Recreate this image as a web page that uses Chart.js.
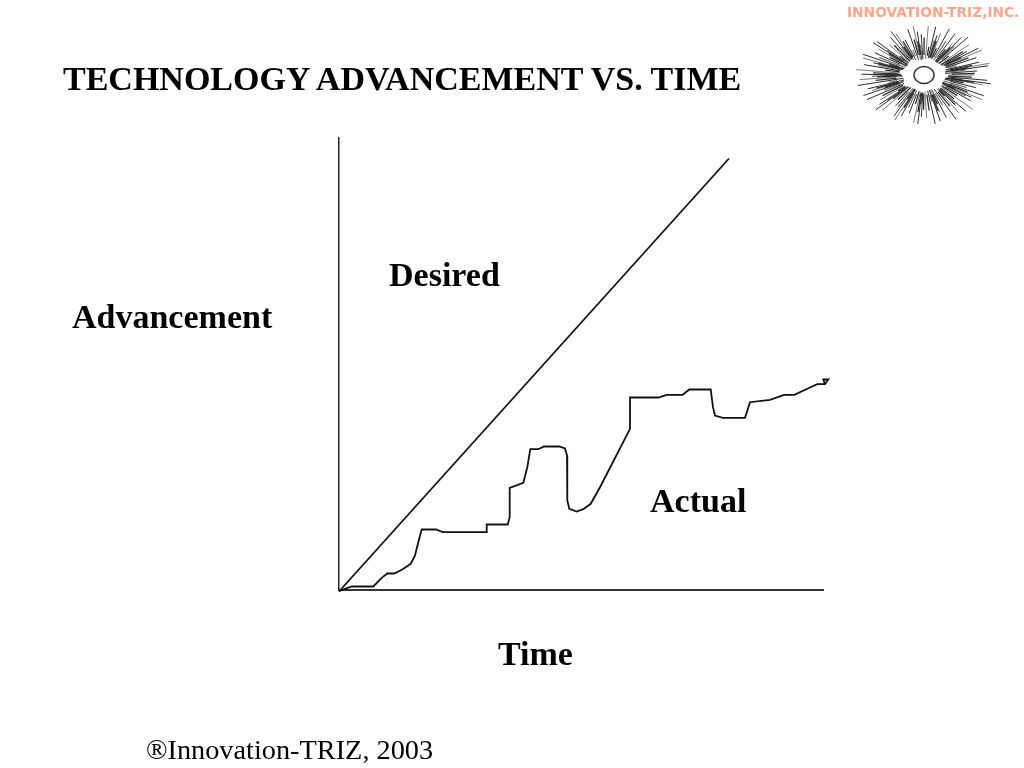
<!DOCTYPE html>
<html>
<head>
<meta charset="utf-8">
<title>Technology advancement vs. time</title>
<script src="https://cdn.jsdelivr.net/npm/chart.js@4/dist/chart.umd.min.js"></script>
<style>
    html, body { margin: 0; padding: 0; background: #fff; }
    #wrap { position: relative; width: 1024px; height: 768px; overflow: hidden; }
    #chart { position: absolute; left: 0; top: 0; }
    #logo { position: absolute; left: 0; top: 0; }
    .t { position: absolute; white-space: nowrap; font-family: "Liberation Serif", serif; color: #000; line-height: 1; }
    .b { font-weight: bold; font-size: 34px; }
    #title { left: 63px; top: 62px; }
    #desired { left: 389px; top: 258px; }
    #advancement { left: 72px; top: 300px; }
    #actual { left: 650px; top: 484px; }
    #time { left: 498px; top: 637px; }
    #footer { left: 146px; top: 736px; font-size: 28.3px; }
    #brand { left: 847px; top: 6px; font-family: "DejaVu Sans", sans-serif; font-weight: bold; font-size: 13.75px; color: #fba58a; }
</style>
</head>
<body>
<div id="wrap">
    <canvas id="chart" width="1024" height="768"></canvas>
    <svg id="logo" width="1024" height="768"></svg>
    <div class="t b" id="title">TECHNOLOGY ADVANCEMENT VS. TIME</div>
    <div class="t b" id="desired">Desired</div>
    <div class="t b" id="advancement">Advancement</div>
    <div class="t b" id="actual">Actual</div>
    <div class="t b" id="time">Time</div>
    <div class="t" id="footer">®Innovation-TRIZ, 2003</div>
    <div class="t" id="brand">INNOVATION-TRIZ,INC.</div>
</div>
<script>
const desiredTime = [0, 390];
const desiredAdvancement = [-1.5, 431.5];

const actualTime = [0, 12.7, 34.3, 42.7, 48.3, 55.3, 63.7, 71.7, 76, 79.3, 82.7, 97, 103.7, 147.7, 147.7, 168.7, 170.7, 170.7, 184.3, 188.3, 191.3, 199.3, 205, 220.3, 226, 228, 228.3, 230.3, 237.7, 244.3, 251.7, 261, 291, 291, 319.3, 327.7, 343.7, 350.3, 371.7, 374, 376, 383.7, 406, 411, 431, 445, 455.3, 471, 478.3, 486, 489.3, 484.3, 486];
const actualAdvancement = [-1.2, 3.5, 3.5, 12.2, 16.5, 16.5, 20.8, 26.2, 34.5, 47.8, 60.5, 60.5, 57.8, 57.8, 65.5, 65.5, 72.8, 102.2, 107.2, 122.8, 140.8, 140.8, 143.5, 143.5, 141.5, 134.5, 89.5, 81.2, 78.5, 80.8, 86.2, 102.8, 161.2, 192.5, 192.5, 195.2, 195.2, 200.5, 200.5, 182.8, 174.5, 172.2, 172.2, 187.8, 190.2, 195.2, 195.2, 202.5, 205.8, 205.8, 210.5, 210.5, 205.8];

const toPoints = (xs, ys) => xs.map((x, i) => ({ x, y: ys[i] }));

new Chart(document.getElementById('chart').getContext('2d'), {
    type: 'scatter',
    data: {
        datasets: [
            {
                label: 'Desired',
                data: toPoints(desiredTime, desiredAdvancement),
                showLine: true,
                borderColor: '#111',
                borderWidth: 1.8,
                pointRadius: 0,
                clip: false,
            },
            {
                label: 'Actual',
                data: toPoints(actualTime, actualAdvancement),
                showLine: true,
                borderColor: '#111',
                borderWidth: 1.8,
                pointRadius: 0,
                clip: false,
            },
        ]
    },
    options: {
        responsive: false,
        animation: false,
        layout: {
            padding: { left: 339, right: 201, top: 138, bottom: 178 },
        },
        plugins: {
            legend: { display: false },
            tooltip: { enabled: false },
        },
        scales: {
            x: {
                min: 0,
                max: 484,
                grid: { display: false, drawTicks: false },
                ticks: { display: false },
                border: { color: '#333', width: 2 },
            },
            y: {
                min: 0,
                max: 452,
                grid: { display: false, drawTicks: false },
                ticks: { display: false },
                border: { color: '#222', width: 1.5 },
            },
        },
    }
});

// logo, the spiky sun in the corner
const svg = document.getElementById('logo');
const NS = 'http://www.w3.org/2000/svg';
function add(name, attrs) {
    const el = document.createElementNS(NS, name);
    for (const k in attrs) el.setAttribute(k, attrs[k]);
    svg.appendChild(el);
}
const cx = 924, cy = 75;
for (let i = 0; i < 150; i++) {
    const a = i * 2 * Math.PI / 150 + 0.03 * Math.sin(i * 7);
    const long = i % 2 === 0;
    const outer = long ? 0.74 + 0.26 * Math.abs(Math.sin(i * 12.9898)) : 0.5 + 0.25 * Math.abs(Math.sin(i * 4.1));
    const inner = 0.36 + 0.05 * Math.sin(i * 3.3);
    add('line', {
        x1: cx + 68 * inner * Math.cos(a), y1: cy + 50 * inner * Math.sin(a),
        x2: cx + 68 * outer * Math.cos(a), y2: cy + 50 * outer * Math.sin(a),
        stroke: '#222', 'stroke-width': long ? 1 : 1.3, 'stroke-opacity': i % 3 ? 0.95 : 0.6,
    });
}
add('ellipse', { cx, cy, rx: 10, ry: 8.5, fill: '#fff', stroke: '#333', 'stroke-width': 1.5 });
</script>
</body>
</html>
